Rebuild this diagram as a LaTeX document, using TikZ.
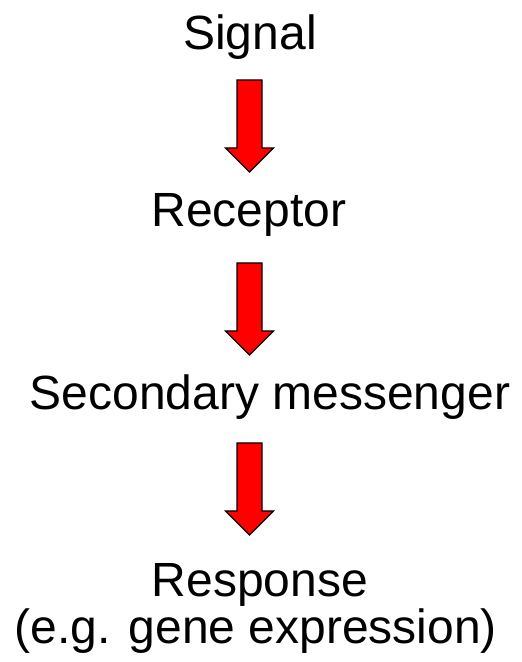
\documentclass[tikz,border=0pt]{standalone}
\usepackage{fontspec}
\setmainfont{Liberation Sans}
\tikzset{
  lbl/.style={anchor=base, inner sep=0pt, font=\fontsize{48}{50}\selectfont},
  redarrow/.style={fill=red, draw=black, line width=1.4pt, line join=miter},
  pics/bigarrow/.style={code={
    \draw[redarrow] (-12.5,0) -- (12.5,0) -- (12.5,-68) -- (24,-68) -- (0,-92) -- (-24,-68) -- (-12.5,-68) -- cycle;
  }}
}
\begin{document}
\begin{tikzpicture}[x=1pt,y=1pt]
\useasboundingbox (0,0) rectangle (522,662);
\node[lbl] (signal) at (250,612) {Signal};
\node[lbl] (receptor) at (249,435) {Receptor};
\node[lbl] (messenger) at (270,252) {Secondary messenger};
\node[lbl] (response) at (260,65) {Response};
\node[lbl] (example) at (256,19) {(e.g. gene expression)};
\coordinate (a1) at (249.5,582);
\coordinate (a2) at (249.5,399);
\coordinate (a3) at (249.5,219);
\pic at (a1) {bigarrow};
\pic at (a2) {bigarrow};
\pic at (a3) {bigarrow};
\end{tikzpicture}
\end{document}
